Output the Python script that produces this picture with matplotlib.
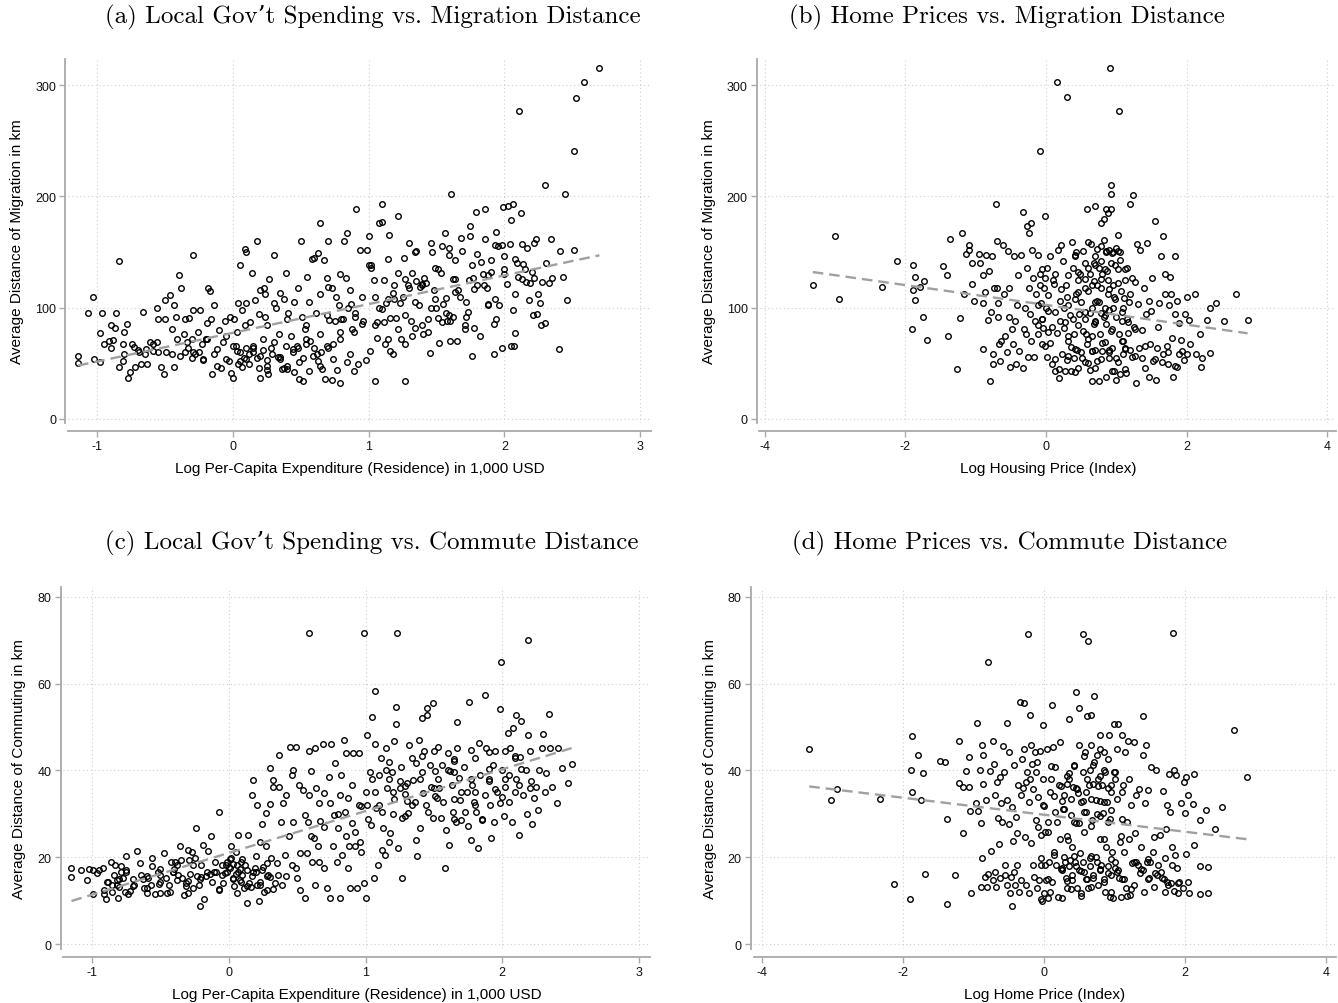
import numpy as np
import matplotlib
matplotlib.use("Agg")
import matplotlib.pyplot as plt

plt.rcParams["font.family"] = ["Liberation Sans", "DejaVu Sans"]
plt.rcParams["axes.unicode_minus"] = False

# (a) log per-capita expenditure vs. average migration distance (km)
A_PTS = [
    (-1.14, 57), (-1.14, 50), (-1.03, 110), (-1.07, 95), (-1.02, 54), (-0.98, 77), (-0.98, 51),
    (-0.96, 95), (-0.95, 67), (-0.91, 70), (-0.90, 84), (-0.87, 82), (-0.90, 64), (-0.88, 71),
    (-0.86, 95), (-0.84, 142), (-0.84, 47), (-0.81, 67), (-0.80, 78), (-0.78, 85), (-0.77, 37),
    (-0.76, 42), (-0.80, 58), (-0.81, 52), (-0.74, 67), (-0.73, 65), (-0.72, 47), (-0.68, 49),
    (-0.66, 96), (-0.63, 49), (-0.64, 63), (-0.61, 69), (-0.59, 67), (-0.56, 100), (-0.55, 90),
    (-0.56, 69), (-0.53, 47), (-0.51, 40), (-0.50, 90), (-0.50, 107), (-0.46, 111), (-0.45, 81),
    (-0.43, 102), (-0.42, 92), (-0.43, 47), (-0.41, 72), (-0.40, 129), (-0.38, 118), (-0.36, 76),
    (-0.35, 90), (-0.33, 64), (-0.32, 91), (-0.30, 72), (-0.29, 147), (-0.29, 98), (-0.28, 58),
    (-0.26, 78), (-0.24, 98), (-0.23, 67), (-0.22, 53), (-0.20, 72), (-0.19, 86), (-0.18, 118),
    (-0.17, 115), (-0.16, 90), (-0.14, 102), (-0.14, 58), (-0.15, 40), (-0.12, 63), (-0.09, 46),
    (-0.07, 69), (-0.06, 88), (-0.03, 52), (-0.02, 92), (-0.01, 41), (0.01, 90), (0.00, 37),
    (0.02, 66), (0.03, 61), (0.04, 104), (0.05, 138), (0.04, 49), (0.07, 98), (0.07, 47),
    (0.09, 153), (0.10, 150), (0.10, 104), (0.09, 84), (0.10, 64), (0.12, 58), (0.14, 131),
    (0.15, 64), (0.16, 107), (0.18, 160), (0.19, 94), (0.19, 46), (0.20, 37), (0.20, 116),
    (0.23, 118), (0.24, 112), (0.22, 72), (0.24, 92), (0.25, 44), (0.26, 40), (0.27, 126),
    (0.29, 58), (0.30, 104), (0.30, 147), (0.32, 100), (0.34, 76), (0.35, 56), (0.35, 113),
    (0.38, 108), (0.39, 131), (0.38, 46), (0.39, 66), (0.41, 95), (0.43, 75), (0.45, 105),
    (0.45, 42), (0.48, 118), (0.48, 64), (0.49, 36), (0.50, 160), (0.51, 92), (0.52, 34),
    (0.53, 81), (0.54, 67), (0.55, 128), (0.56, 105), (0.56, 43), (0.58, 144), (0.60, 64),
    (0.60, 145), (0.61, 95), (0.62, 58), (0.63, 149), (0.64, 176), (0.64, 112), (0.64, 76),
    (0.65, 60), (0.67, 143), (0.68, 36), (0.69, 127), (0.70, 119), (0.70, 160), (0.71, 89),
    (0.73, 35), (0.73, 118), (0.74, 67), (0.76, 110), (0.77, 44), (0.78, 102), (0.79, 78),
    (0.79, 32), (0.79, 130), (0.82, 160), (0.83, 127), (0.84, 167), (0.86, 58), (0.86, 116),
    (0.87, 103), (0.88, 81), (0.89, 43), (0.90, 92), (0.91, 189), (0.92, 49), (0.94, 152),
    (0.95, 110), (0.96, 88), (0.98, 53), (0.99, 152), (1.00, 138), (1.00, 164), (1.01, 61),
    (1.02, 136), (1.04, 125), (1.05, 34), (1.06, 87), (1.06, 73), (1.08, 176), (1.10, 193),
    (1.10, 177), (1.11, 125), (1.11, 87), (1.12, 67), (1.13, 104), (1.15, 165), (1.16, 91),
    (1.16, 61), (1.18, 58), (1.19, 120), (1.20, 91), (1.22, 182), (1.22, 131), (1.23, 104),
    (1.24, 72), (1.26, 145), (1.27, 67), (1.27, 34), (1.29, 120), (1.30, 158), (1.31, 88),
    (1.32, 131), (1.34, 82), (1.35, 151), (1.37, 102), (1.39, 121), (1.40, 76), (1.41, 127),
    (1.44, 78), (1.45, 59), (1.46, 158), (1.47, 150), (1.48, 116), (1.49, 136), (1.51, 91),
    (1.52, 68), (1.53, 131), (1.54, 155), (1.56, 167), (1.57, 109), (1.58, 88), (1.59, 154),
    (1.60, 70), (1.61, 202), (1.62, 126), (1.64, 143), (1.65, 70), (1.66, 116), (1.68, 163),
    (1.69, 151), (1.71, 81), (1.72, 105), (1.75, 173), (1.75, 164), (1.76, 57), (1.77, 127),
    (1.78, 82), (1.79, 186), (1.80, 148), (1.82, 75), (1.83, 141), (1.85, 120), (1.86, 189),
    (1.86, 162), (1.88, 103), (1.90, 143), (1.92, 85), (1.92, 58), (1.94, 168), (1.94, 90),
    (1.96, 102), (1.98, 156), (1.98, 64), (1.99, 190), (2.00, 146), (2.02, 121), (2.03, 191),
    (2.04, 157), (2.05, 179), (2.05, 66), (2.06, 98), (2.06, 193), (2.07, 66), (2.08, 112),
    (2.08, 77), (2.09, 140), (2.11, 277), (2.12, 185), (2.13, 157), (2.14, 139), (2.16, 123),
    (2.17, 154), (2.18, 107), (2.19, 122), (2.21, 93), (2.22, 127), (2.22, 158), (2.23, 162),
    (2.24, 94), (2.25, 112), (2.26, 104), (2.27, 84), (2.28, 123), (2.30, 86), (2.30, 210),
    (2.31, 140), (2.33, 122), (2.34, 162), (2.35, 127), (2.40, 63), (2.41, 151), (2.43, 128),
    (2.45, 202), (2.46, 107), (2.51, 241), (2.51, 152), (2.53, 288), (2.59, 303), (2.70, 315),
    (0.05, 52), (0.08, 55), (0.12, 49), (0.15, 60), (0.18, 55), (0.22, 62), (0.25, 53),
    (0.28, 64), (0.33, 56), (0.36, 45), (0.40, 48), (0.44, 60), (0.47, 66), (0.52, 55),
    (0.57, 70), (0.63, 52), (0.66, 45), (0.70, 64), (0.75, 88), (0.80, 90), (0.85, 100),
    (0.90, 95), (0.95, 85), (1.05, 110), (1.08, 100), (1.14, 108), (1.18, 113), (1.25, 110),
    (1.30, 118), (1.35, 124), (1.38, 119), (1.42, 122), (1.46, 100), (1.50, 100), (1.55, 103),
    (1.57, 95), (1.60, 88), (1.62, 92), (1.67, 110), (1.72, 92), (1.74, 125), (1.80, 120),
    (1.84, 130), (1.87, 118), (1.90, 132), (1.95, 155), (2.00, 130), (2.10, 128), (2.15, 135),
    (2.20, 132), (-0.35, 60), (-0.30, 55), (-0.25, 60), (-0.20, 72), (-0.10, 80), (-0.05, 75),
    (-0.45, 58), (-0.55, 60), (-0.65, 58), (-0.70, 62),
    (0.00, 66), (0.05, 60), (0.10, 54), (0.15, 66), (0.20, 57), (0.25, 48), (0.30, 69),
    (0.35, 54), (0.40, 45), (0.44, 63), (0.49, 51), (0.54, 72), (0.59, 57), (0.64, 48),
    (0.69, 66), (0.74, 54), (0.79, 72), (0.84, 51), (0.89, 78), (0.03, 78), (0.13, 87),
    (0.25, 84), (0.40, 90), (0.54, 84), (0.69, 93), (0.81, 90), (-0.05, 54), (-0.12, 48),
    (-0.22, 54), (-0.29, 60), (-0.39, 57), (-0.49, 60), (-0.59, 61), (-0.69, 60), (-0.34, 69),
    (-0.19, 72), (1.27, 126), (1.39, 120), (1.51, 135), (1.64, 126), (1.76, 138), (1.88, 129),
    (2.00, 135), (2.13, 126), (1.19, 108), (1.34, 105), (1.49, 108), (1.64, 114), (1.78, 117),
    (1.93, 108), (1.10, 99), (1.27, 93), (1.44, 90), (1.59, 93), (1.73, 96), (1.88, 102),
    (1.05, 84), (1.22, 81), (1.39, 84), (1.54, 87), (1.71, 84), (1.14, 72), (1.32, 75),
    (1.02, 138), (1.14, 144), (1.34, 150), (1.59, 147), (1.93, 156), (2.08, 144),
]

# (b) log housing price index vs. average migration distance (km)
B_PTS = [
    (-3.32, 120), (-3.01, 164), (-2.94, 108), (-2.33, 119), (-2.12, 142), (-1.90, 138), (-1.87, 128),
    (-1.89, 116), (-1.87, 107), (-1.91, 81), (-1.80, 119), (-1.73, 124), (-1.75, 92), (-1.69, 71),
    (-1.46, 137), (-1.41, 129), (-1.40, 75), (-1.37, 162), (-1.26, 45), (-1.22, 91), (-1.20, 167),
    (-1.16, 112), (-1.14, 148), (-1.10, 152), (-1.09, 156), (-1.05, 140), (-1.05, 121), (-1.03, 106),
    (-0.96, 148), (-0.94, 140), (-0.90, 129), (-0.89, 63), (-0.89, 104), (-0.87, 114), (-0.85, 147),
    (-0.83, 89), (-0.81, 133), (-0.79, 34), (-0.78, 96), (-0.77, 146), (-0.76, 58), (-0.76, 49),
    (-0.74, 118), (-0.71, 193), (-0.70, 160), (-0.70, 118), (-0.68, 104), (-0.68, 92), (-0.67, 67),
    (-0.65, 52), (-0.64, 70), (-0.61, 156), (-0.60, 112), (-0.58, 75), (-0.56, 60), (-0.54, 151),
    (-0.52, 118), (-0.52, 92), (-0.51, 47), (-0.49, 81), (-0.47, 67), (-0.46, 146), (-0.44, 88),
    (-0.43, 49), (-0.41, 102), (-0.40, 129), (-0.38, 61), (-0.36, 147), (-0.33, 186), (-0.33, 46),
    (-0.32, 81), (-0.30, 100), (-0.29, 76), (-0.27, 173), (-0.27, 136), (-0.26, 56), (-0.24, 167),
    (-0.24, 118), (-0.23, 94), (-0.21, 176), (-0.21, 70), (-0.20, 152), (-0.18, 127), (-0.17, 56),
    (-0.15, 88), (-0.14, 112), (-0.12, 147), (-0.11, 76), (-0.09, 130), (-0.08, 241), (-0.07, 104),
    (-0.06, 67), (-0.04, 82), (-0.03, 118), (-0.01, 182), (0.01, 136), (0.02, 56), (0.03, 97),
    (0.05, 146), (0.06, 68), (0.08, 49), (0.09, 83), (0.11, 121), (0.13, 43), (0.15, 77),
    (0.16, 303), (0.17, 152), (0.18, 37), (0.20, 106), (0.21, 156), (0.23, 58), (0.24, 142),
    (0.26, 82), (0.27, 43), (0.29, 120), (0.30, 289), (0.30, 53), (0.32, 70), (0.34, 93),
    (0.35, 43), (0.37, 159), (0.38, 136), (0.40, 76), (0.41, 146), (0.43, 112), (0.44, 62),
    (0.46, 46), (0.47, 94), (0.49, 130), (0.51, 55), (0.52, 79), (0.53, 151), (0.55, 118),
    (0.57, 76), (0.58, 67), (0.59, 189), (0.60, 136), (0.62, 44), (0.63, 95), (0.64, 157),
    (0.65, 61), (0.66, 34), (0.68, 124), (0.69, 85), (0.70, 191), (0.70, 146), (0.72, 52),
    (0.73, 106), (0.75, 34), (0.76, 136), (0.77, 76), (0.79, 176), (0.79, 118), (0.80, 61),
    (0.82, 161), (0.82, 180), (0.83, 92), (0.85, 189), (0.85, 38), (0.87, 133), (0.88, 185),
    (0.88, 112), (0.90, 55), (0.91, 315), (0.92, 210), (0.92, 202), (0.93, 189), (0.93, 79),
    (0.94, 149), (0.94, 64), (0.96, 100), (0.97, 43), (0.99, 154), (1.00, 35), (1.02, 122),
    (1.03, 165), (1.04, 277), (1.04, 76), (1.05, 40), (1.06, 143), (1.08, 88), (1.10, 58),
    (1.11, 109), (1.13, 64), (1.14, 41), (1.16, 136), (1.17, 77), (1.19, 193), (1.20, 112),
    (1.22, 56), (1.24, 201), (1.25, 83), (1.26, 123), (1.28, 32), (1.30, 157), (1.31, 103),
    (1.33, 64), (1.34, 152), (1.36, 80), (1.37, 55), (1.39, 118), (1.41, 46), (1.43, 94),
    (1.44, 158), (1.46, 38), (1.47, 106), (1.48, 67), (1.50, 97), (1.51, 127), (1.53, 52),
    (1.55, 178), (1.56, 35), (1.58, 64), (1.60, 83), (1.61, 104), (1.64, 146), (1.66, 58),
    (1.67, 164), (1.69, 112), (1.70, 130), (1.72, 66), (1.73, 49), (1.75, 102), (1.77, 128),
    (1.78, 112), (1.80, 73), (1.81, 38), (1.83, 94), (1.84, 146), (1.86, 47), (1.87, 106),
    (1.89, 58), (1.90, 86), (1.92, 71), (1.94, 61), (1.96, 53), (1.98, 94), (2.00, 58),
    (2.01, 110), (2.04, 89), (2.05, 67), (2.12, 112), (2.13, 58), (2.19, 76), (2.21, 47),
    (2.22, 55), (2.29, 89), (2.33, 100), (2.34, 59), (2.42, 104), (2.53, 88), (2.70, 112),
    (2.87, 89),
    (0.45, 125), (0.50, 105), (0.55, 90), (0.60, 115), (0.62, 130), (0.65, 100), (0.70, 88),
    (0.72, 120), (0.75, 105), (0.78, 95), (0.80, 130), (0.84, 100), (0.86, 150), (0.88, 125),
    (0.90, 98), (0.92, 140), (0.95, 120), (0.97, 110), (1.00, 92), (1.03, 135), (1.07, 115),
    (1.10, 100), (1.12, 125), (1.15, 90), (1.18, 105), (0.35, 65), (0.40, 55), (0.50, 60),
    (0.60, 50), (0.70, 62), (0.80, 68), (0.90, 62), (1.00, 55), (1.10, 70), (1.20, 62),
    (0.20, 88), (0.25, 100), (0.10, 125), (0.00, 100), (-0.05, 90), (0.30, 110), (0.38, 90),
    (0.42, 150), (0.55, 140), (0.68, 140), (0.78, 155), (0.95, 150), (1.05, 150), (0.85, 85),
    (0.65, 75),
    (0.41, 147), (0.60, 159), (0.72, 153), (0.79, 142), (0.86, 151), (0.90, 152), (1.03, 151),
    (0.70, 138), (0.84, 135), (0.98, 138), (0.46, 132), (0.32, 129), (0.13, 130), (-0.01, 127),
    (0.56, 126), (0.79, 126), (1.12, 135), (1.22, 127), (0.65, 120), (0.89, 117), (0.46, 114),
    (0.22, 117), (0.03, 111), (0.41, 108), (0.70, 105), (0.98, 108), (0.32, 102), (0.13, 96),
    (0.56, 96), (0.84, 93), (1.08, 96), (-0.06, 90), (0.27, 87), (0.46, 84), (0.70, 87),
    (0.94, 81), (1.17, 87), (1.27, 81), (0.03, 78), (0.32, 75), (0.60, 72), (0.84, 69),
    (1.08, 70), (-0.01, 66), (0.41, 63), (0.65, 61), (0.89, 60), (1.12, 63), (1.41, 66),
    (0.13, 54), (0.32, 57), (0.56, 51), (0.79, 54), (1.03, 51), (1.27, 57), (1.55, 54),
    (1.74, 60), (0.18, 45), (0.70, 46), (0.94, 43), (0.41, 42), (1.12, 45), (1.65, 51),
    (1.84, 48), (-0.11, 84), (-0.11, 102), (-0.09, 120), (-0.06, 135),
]

# (c) log per-capita expenditure vs. average commuting distance (km)
C_PTS = [
    (-1.15, 17.5), (-1.15, 15.4), (-1.08, 17.1), (-1.04, 14.8), (-1.02, 17.3), (-0.99, 11.5),
    (-0.99, 17.1), (-0.96, 16.3), (-0.95, 17.1), (-0.92, 17.5), (-0.91, 12.5), (-0.90, 10.4),
    (-0.91, 11.5), (-0.88, 14.4), (-0.86, 19.0), (-0.85, 13.7), (-0.84, 16.0), (-0.83, 18.3),
    (-0.82, 14.8), (-0.82, 13.7), (-0.81, 10.7), (-0.79, 16.7), (-0.79, 17.9), (-0.77, 15.2),
    (-0.76, 12.1), (-0.75, 20.4), (-0.75, 17.1), (-0.74, 11.5), (-0.72, 12.3), (-0.69, 13.7),
    (-0.67, 21.5), (-0.65, 18.6), (-0.64, 15.8), (-0.62, 12.9), (-0.60, 11.7), (-0.59, 15.2),
    (-0.57, 13.7), (-0.56, 19.8), (-0.56, 17.9), (-0.54, 11.5), (-0.52, 16.7), (-0.51, 13.8),
    (-0.50, 11.7), (-0.47, 21.0), (-0.46, 15.2), (-0.45, 11.7), (-0.44, 13.7), (-0.42, 19.0),
    (-0.41, 16.7), (-0.39, 19.0), (-0.38, 14.8), (-0.37, 16.0), (-0.36, 22.5), (-0.35, 19.4),
    (-0.34, 15.2), (-0.33, 11.4), (-0.31, 14.0), (-0.30, 21.7), (-0.30, 11.7), (-0.29, 19.4),
    (-0.28, 16.1), (-0.27, 21.3), (-0.26, 12.9), (-0.25, 19.8), (-0.24, 26.7), (-0.23, 15.6),
    (-0.22, 13.7), (-0.21, 8.7), (-0.20, 18.3), (-0.19, 22.9), (-0.18, 10.4), (-0.17, 15.6),
    (-0.16, 16.7), (-0.15, 21.5), (-0.14, 16.1), (-0.13, 24.8), (-0.12, 14.4), (-0.09, 16.7),
    (-0.07, 12.5), (-0.07, 30.5), (-0.05, 18.3), (-0.04, 14.0), (-0.03, 16.3), (-0.01, 16.7),
    (-0.01, 19.0), (0.01, 17.5), (0.02, 19.8), (0.02, 22.5), (0.03, 15.2), (0.04, 13.3),
    (0.05, 21.3), (0.06, 18.3), (0.06, 11.7), (0.07, 25.2), (0.07, 16.7), (0.09, 19.0),
    (0.09, 14.4), (0.10, 16.0), (0.11, 12.9), (0.12, 18.3), (0.13, 9.4), (0.14, 25.2),
    (0.15, 14.0), (0.17, 15.6), (0.17, 34.4), (0.18, 37.8), (0.19, 17.5), (0.20, 20.2),
    (0.21, 32.1), (0.21, 13.7), (0.22, 9.8), (0.23, 23.6), (0.24, 17.1), (0.24, 27.6),
    (0.26, 12.1), (0.27, 22.5), (0.27, 30.2), (0.28, 18.6), (0.29, 16.0), (0.30, 32.2),
    (0.30, 40.5), (0.31, 19.8), (0.32, 37.8), (0.32, 36.1), (0.34, 14.0), (0.35, 18.6),
    (0.36, 16.0), (0.37, 43.6), (0.37, 36.1), (0.38, 28.2), (0.39, 13.7), (0.40, 32.5),
    (0.41, 20.6), (0.42, 34.4), (0.42, 15.6), (0.44, 24.8), (0.45, 45.4), (0.46, 18.3),
    (0.46, 39.0), (0.47, 40.1), (0.47, 28.2), (0.49, 45.5), (0.49, 17.5), (0.50, 15.2),
    (0.51, 36.7), (0.52, 12.5), (0.52, 21.0), (0.54, 35.5), (0.56, 10.6), (0.56, 29.8),
    (0.57, 21.0), (0.58, 28.2), (0.59, 34.4), (0.59, 44.4), (0.60, 39.8), (0.61, 19.0),
    (0.62, 24.4), (0.63, 45.1), (0.63, 13.7), (0.64, 35.9), (0.65, 22.5), (0.66, 32.5),
    (0.66, 19.0), (0.67, 28.4), (0.69, 46.0), (0.70, 17.5), (0.70, 34.8), (0.72, 12.9),
    (0.73, 38.6), (0.74, 32.5), (0.74, 10.6), (0.75, 46.0), (0.76, 22.5), (0.77, 29.8),
    (0.78, 41.7), (0.79, 19.0), (0.80, 26.7), (0.81, 10.6), (0.81, 34.4), (0.82, 39.0),
    (0.83, 20.6), (0.84, 47.0), (0.85, 30.5), (0.86, 24.8), (0.86, 44.0), (0.87, 33.6),
    (0.87, 17.5), (0.88, 22.5), (0.89, 12.9), (0.90, 36.7), (0.91, 44.0), (0.92, 25.9),
    (0.92, 22.5), (0.94, 12.9), (0.95, 32.1), (0.95, 44.0), (0.96, 23.6), (0.97, 21.3),
    (0.99, 71.6), (0.99, 14.0), (1.00, 10.6), (1.01, 48.2), (1.01, 32.1), (1.03, 39.7),
    (1.04, 27.5), (1.05, 52.4), (1.06, 15.2), (1.07, 46.0), (1.07, 58.3), (1.08, 31.3),
    (1.09, 18.3), (1.10, 39.0), (1.11, 42.8), (1.12, 21.7), (1.13, 26.7), (1.14, 20.6),
    (1.15, 45.1), (1.16, 35.9), (1.17, 23.6), (1.18, 25.6), (1.19, 39.7), (1.20, 35.1),
    (1.21, 46.7), (1.22, 50.7), (1.22, 54.6), (1.23, 71.6), (1.24, 22.1), (1.25, 37.5),
    (1.26, 40.9), (1.27, 15.2), (1.27, 29.0), (1.29, 34.5), (1.30, 37.1), (1.31, 30.2),
    (1.32, 45.9), (1.34, 42.8), (1.34, 32.1), (1.35, 37.8), (1.37, 41.7), (1.37, 24.0),
    (1.38, 20.2), (1.39, 47.0), (1.40, 26.7), (1.41, 52.0), (1.42, 34.8), (1.43, 44.4),
    (1.44, 32.1), (1.45, 54.5), (1.45, 52.8), (1.47, 41.3), (1.48, 36.1), (1.49, 55.5),
    (1.49, 29.0), (1.50, 44.4), (1.51, 39.8), (1.52, 33.6), (1.53, 45.5), (1.54, 35.9),
    (1.55, 29.0), (1.56, 41.3), (1.57, 32.8), (1.58, 17.5), (1.59, 26.3), (1.60, 44.0),
    (1.61, 22.9), (1.62, 39.8), (1.63, 36.7), (1.64, 30.5), (1.65, 42.1), (1.66, 28.2),
    (1.67, 51.1), (1.67, 45.1), (1.68, 38.2), (1.69, 33.2), (1.70, 28.6), (1.72, 40.9),
    (1.73, 30.5), (1.74, 35.1), (1.75, 27.3), (1.76, 55.7), (1.77, 44.7), (1.77, 24.0),
    (1.78, 36.7), (1.79, 32.8), (1.80, 42.8), (1.81, 30.5), (1.82, 22.1), (1.83, 46.3),
    (1.84, 39.0), (1.85, 28.6), (1.87, 34.4), (1.87, 57.3), (1.88, 45.1), (1.90, 37.5),
    (1.91, 32.1), (1.92, 24.4), (1.93, 41.3), (1.94, 28.2), (1.95, 44.4), (1.96, 35.1),
    (1.98, 54.2), (1.98, 32.5), (1.99, 65.1), (2.00, 40.1), (2.01, 29.4), (2.02, 36.1),
    (2.02, 44.4), (2.04, 48.6), (2.05, 32.8), (2.05, 39.0), (2.06, 45.1), (2.07, 28.1),
    (2.08, 49.7), (2.09, 42.8), (2.10, 52.8), (2.12, 36.7), (2.12, 25.2), (2.13, 43.2),
    (2.14, 51.3), (2.15, 34.4), (2.17, 40.1), (2.18, 29.9), (2.19, 70.1), (2.19, 48.2),
    (2.20, 44.4), (2.21, 37.5), (2.22, 27.6), (2.23, 33.6), (2.25, 36.1), (2.26, 30.9),
    (2.27, 40.1), (2.29, 45.1), (2.30, 48.4), (2.31, 35.0), (2.32, 39.4), (2.34, 53.0),
    (2.35, 45.1), (2.36, 36.3), (2.40, 32.5), (2.41, 45.1), (2.44, 40.5), (2.48, 37.1),
    (2.51, 41.4), (0.59, 71.6),
    (0.00, 17.8), (0.03, 18.5), (0.05, 16.2), (0.08, 14.8), (0.10, 19.5), (0.13, 17.0),
    (0.16, 13.2), (0.20, 16.5), (0.23, 13.7), (0.25, 17.8), (0.28, 12.5), (0.30, 15.5),
    (-0.05, 16.0), (-0.10, 18.8), (-0.20, 15.5), (-0.30, 14.5), (-0.40, 17.2), (-0.50, 15.8),
    (-0.60, 13.0), (-0.70, 15.0), (-0.80, 13.2), (1.00, 35.0), (1.05, 38.0), (1.10, 32.0),
    (1.15, 40.0), (1.20, 30.0), (1.25, 36.0), (1.30, 33.0), (1.40, 38.0), (1.50, 36.0),
    (1.60, 40.0), (1.70, 35.0), (1.80, 32.0), (1.90, 38.0), (2.00, 34.0), (2.10, 38.0),
    (2.20, 36.0), (0.80, 30.0), (0.90, 28.0), (0.70, 27.0), (0.60, 25.0),
    (-0.89, 14.2), (-0.80, 15.0), (-0.70, 13.4), (-0.60, 15.7), (-0.50, 14.2), (-0.41, 16.5),
    (-0.31, 13.4), (-0.21, 15.0), (-0.11, 16.5), (-0.02, 18.1), (0.03, 15.0), (0.08, 17.3),
    (0.13, 13.4), (0.18, 16.5), (0.23, 14.2), (0.28, 15.7), (0.32, 12.7), (-0.38, 18.1),
    (-0.26, 18.1), (-0.50, 17.3), (-0.63, 15.0), (-0.75, 16.5), (-0.85, 11.9), (-0.43, 11.9),
    (-0.07, 12.7), (0.01, 19.6), (1.17, 38.0), (1.29, 36.5), (1.41, 39.6), (1.53, 38.0),
    (1.65, 39.6), (1.77, 38.0), (1.90, 40.3), (2.02, 38.0), (2.14, 40.3), (1.21, 33.4),
    (1.36, 32.7), (1.51, 34.2), (1.65, 33.4), (1.80, 35.0), (1.95, 35.7), (2.09, 35.0),
    (1.12, 30.4), (1.29, 29.6), (1.46, 30.4), (1.65, 28.8), (1.85, 28.8), (1.17, 41.9),
    (1.41, 43.4), (1.65, 42.7), (1.90, 44.2), (2.09, 43.4), (1.07, 35.0), (0.97, 31.9),
    (1.02, 28.8),
]

# (d) log home price index vs. average commuting distance (km)
D_PTS = [
    (-3.33, 44.9), (-2.94, 35.8), (-3.02, 33.1), (-2.33, 33.4), (-2.13, 13.8), (-1.90, 10.3),
    (-1.88, 40.0), (-1.87, 35.1), (-1.87, 47.9), (-1.79, 43.6), (-1.75, 33.2), (-1.72, 39.4),
    (-1.69, 16.2), (-1.47, 42.3), (-1.41, 42.0), (-1.38, 9.3), (-1.37, 28.9), (-1.26, 15.8),
    (-1.21, 46.7), (-1.21, 37.1), (-1.15, 36.2), (-1.15, 25.7), (-1.11, 39.8), (-1.06, 43.0),
    (-1.06, 36.2), (-1.05, 30.6), (-1.03, 11.7), (-0.97, 32.6), (-0.95, 50.9), (-0.93, 30.6),
    (-0.91, 40.0), (-0.89, 13.2), (-0.89, 27.8), (-0.88, 45.8), (-0.88, 19.9), (-0.87, 37.0),
    (-0.86, 43.5), (-0.84, 15.5), (-0.82, 33.2), (-0.81, 13.2), (-0.79, 65.0), (-0.79, 16.1),
    (-0.77, 39.9), (-0.75, 21.4), (-0.73, 14.8), (-0.72, 46.7), (-0.71, 41.6), (-0.70, 34.3),
    (-0.69, 16.7), (-0.68, 13.2), (-0.67, 37.4), (-0.66, 29.1), (-0.64, 23.0), (-0.63, 15.2),
    (-0.62, 38.5), (-0.61, 32.4), (-0.59, 28.2), (-0.58, 45.6), (-0.57, 39.7), (-0.56, 15.9),
    (-0.55, 18.2), (-0.53, 33.2), (-0.52, 51.0), (-0.52, 13.6), (-0.50, 27.6), (-0.49, 44.3),
    (-0.48, 11.7), (-0.47, 15.5), (-0.46, 31.6), (-0.46, 8.7), (-0.44, 23.7), (-0.43, 41.3),
    (-0.42, 16.7), (-0.41, 13.6), (-0.40, 29.2), (-0.39, 25.5), (-0.38, 18.2), (-0.37, 36.6),
    (-0.35, 12.1), (-0.34, 55.7), (-0.33, 34.3), (-0.33, 14.8), (-0.31, 42.6), (-0.29, 45.0),
    (-0.28, 55.6), (-0.27, 24.7), (-0.26, 13.6), (-0.25, 37.4), (-0.24, 39.7), (-0.23, 71.4),
    (-0.22, 32.8), (-0.21, 11.7), (-0.20, 52.8), (-0.19, 23.2), (-0.19, 45.8), (-0.17, 41.6),
    (-0.16, 18.2), (-0.15, 35.8), (-0.14, 15.5), (-0.13, 44.3), (-0.12, 28.6), (-0.11, 39.7),
    (-0.10, 12.9), (-0.09, 33.9), (-0.08, 27.0), (-0.07, 14.8), (-0.06, 44.6), (-0.05, 25.1),
    (-0.04, 19.8), (-0.03, 9.8), (-0.02, 38.1), (-0.01, 50.4), (-0.01, 32.0), (0.00, 11.7),
    (0.01, 18.2), (0.02, 25.9), (0.03, 14.8), (0.04, 45.0), (0.05, 10.6), (0.06, 28.2),
    (0.07, 19.0), (0.08, 35.1), (0.10, 41.0), (0.11, 55.0), (0.11, 14.4), (0.13, 45.4),
    (0.14, 20.5), (0.15, 30.5), (0.16, 40.8), (0.17, 18.1), (0.19, 28.2), (0.20, 10.9),
    (0.21, 36.6), (0.22, 46.6), (0.23, 24.3), (0.25, 17.5), (0.26, 10.6), (0.27, 31.2),
    (0.28, 20.1), (0.29, 34.3), (0.31, 15.2), (0.32, 37.0), (0.33, 12.9), (0.34, 24.0),
    (0.35, 51.9), (0.36, 39.5), (0.37, 19.4), (0.38, 29.7), (0.39, 14.8), (0.40, 22.4),
    (0.41, 36.2), (0.43, 41.2), (0.44, 19.0), (0.45, 58.2), (0.46, 27.8), (0.47, 12.9),
    (0.48, 34.7), (0.49, 54.4), (0.50, 45.8), (0.51, 20.9), (0.52, 32.8), (0.53, 11.7),
    (0.55, 71.4), (0.55, 39.7), (0.56, 25.9), (0.57, 16.7), (0.58, 44.3), (0.59, 30.5),
    (0.61, 52.5), (0.62, 12.9), (0.63, 69.9), (0.64, 36.6), (0.65, 19.8), (0.66, 45.8),
    (0.67, 52.7), (0.68, 28.6), (0.69, 15.2), (0.70, 41.2), (0.71, 57.1), (0.73, 20.1),
    (0.74, 33.2), (0.75, 43.5), (0.76, 13.6), (0.77, 38.1), (0.79, 24.3), (0.80, 48.1),
    (0.81, 18.2), (0.82, 36.6), (0.83, 30.1), (0.85, 44.3), (0.86, 12.1), (0.87, 39.7),
    (0.88, 22.4), (0.89, 32.8), (0.91, 16.3), (0.92, 48.1), (0.93, 28.9), (0.94, 10.9),
    (0.95, 36.6), (0.97, 21.3), (0.98, 10.6), (0.99, 50.8), (1.00, 39.7), (1.01, 17.5),
    (1.03, 45.0), (1.04, 33.5), (1.05, 50.8), (1.06, 15.2), (1.07, 23.6), (1.09, 10.9),
    (1.10, 48.1), (1.11, 28.9), (1.12, 36.6), (1.13, 21.3), (1.15, 44.3), (1.16, 12.9),
    (1.17, 28.2), (1.19, 46.9), (1.21, 24.3), (1.22, 11.3), (1.24, 32.0), (1.25, 18.6),
    (1.27, 13.6), (1.28, 46.6), (1.29, 25.5), (1.31, 34.3), (1.33, 18.2), (1.34, 35.8),
    (1.36, 16.3), (1.37, 22.4), (1.40, 52.5), (1.41, 43.5), (1.42, 12.1), (1.43, 32.4),
    (1.45, 45.8), (1.46, 19.0), (1.47, 35.5), (1.49, 15.2), (1.52, 40.8), (1.54, 21.3),
    (1.56, 24.7), (1.58, 16.3), (1.59, 40.0), (1.61, 18.2), (1.64, 25.1), (1.67, 15.2),
    (1.69, 35.2), (1.71, 19.8), (1.71, 12.1), (1.73, 26.6), (1.74, 32.0), (1.76, 13.6),
    (1.77, 39.3), (1.79, 30.5), (1.81, 22.4), (1.82, 18.2), (1.83, 71.6), (1.84, 40.0),
    (1.85, 20.5), (1.87, 38.9), (1.88, 17.5), (1.90, 11.7), (1.91, 14.4), (1.94, 32.4),
    (1.97, 12.9), (1.99, 37.4), (2.00, 30.1), (2.01, 20.7), (2.02, 38.5), (2.04, 14.4),
    (2.04, 34.3), (2.05, 11.7), (2.11, 32.2), (2.12, 22.8), (2.13, 39.3), (2.21, 28.6),
    (2.21, 18.0), (2.21, 11.6), (2.29, 31.0), (2.33, 17.7), (2.33, 11.7), (2.42, 26.6),
    (2.53, 31.5), (2.70, 49.3), (2.88, 38.4),
    (0.45, 18), (0.50, 17), (0.55, 19), (0.60, 15), (0.65, 18), (0.70, 16), (0.75, 19),
    (0.80, 17), (0.85, 15), (0.90, 18), (0.95, 16), (1.00, 19), (1.05, 17), (1.10, 15),
    (0.35, 18), (0.30, 19), (0.25, 17), (0.40, 16), (1.30, 19), (1.40, 17), (1.50, 19),
    (1.60, 16), (1.70, 15), (1.80, 14), (1.90, 14), (0.60, 35), (0.70, 37), (0.80, 33),
    (0.90, 36), (1.00, 38), (0.85, 40), (0.75, 30), (0.95, 31), (0.65, 40), (0.55, 33),
    (0.45, 36), (0.35, 38), (0.25, 33), (0.10, 38), (-0.10, 42), (-0.20, 38), (-0.30, 36),
    (0.50, 28), (1.10, 35), (1.20, 38),
    (0.57, 43.4), (0.71, 41.9), (0.80, 45.0), (0.90, 42.7), (0.43, 41.1), (0.33, 38.8),
    (0.61, 38.0), (0.80, 38.8), (0.99, 39.6), (0.24, 36.5), (0.47, 35.7), (0.76, 36.5),
    (0.95, 35.0), (0.14, 34.2), (0.38, 33.4), (0.66, 33.4), (0.85, 32.7), (0.00, 31.9),
    (0.28, 31.1), (0.57, 30.4), (0.80, 29.6), (0.43, 28.1), (0.66, 27.3), (0.90, 28.1),
    (0.05, 25.8), (0.33, 25.0), (0.85, 24.2), (1.09, 25.0), (0.14, 21.1), (0.43, 20.4),
    (0.66, 20.4), (0.95, 19.6), (1.28, 18.8), (1.47, 19.6), (-0.05, 18.1), (0.24, 17.3),
    (0.52, 16.9), (0.80, 17.3), (1.04, 16.5), (1.37, 17.3), (1.66, 16.5), (0.05, 15.0),
    (0.33, 14.6), (0.61, 15.0), (0.85, 14.2), (1.13, 15.0), (1.47, 15.0), (1.75, 14.2),
    (0.09, 11.9), (0.38, 12.7), (0.66, 13.1), (0.95, 11.9), (1.23, 12.7), (1.56, 13.1),
    (1.84, 12.3), (-0.05, 10.4), (0.52, 11.1), (1.18, 11.1),
]

# linear fits: (intercept, slope)
A_FIT = (77.4, 25.8)
B_FIT = (102.5, -8.89)
C_FIT = (21.0, 9.64)
D_FIT = (29.8, -1.96)

TITLES = [
    "(a) Local Gov\u2019t Spending vs. Migration Distance",
    "(b) Home Prices vs. Migration Distance",
    "(c) Local Gov\u2019t Spending vs. Commute Distance",
    "(d) Home Prices vs. Commute Distance",
]
XLABELS = [
    "Log Per-Capita Expenditure (Residence) in 1,000 USD",
    "Log Housing Price (Index)",
    "Log Per-Capita Expenditure (Residence) in 1,000 USD",
    "Log Home Price (Index)",
]
YLABELS = [
    "Average Distance of Migration in km",
    "Average Distance of Migration in km",
    "Average Distance of Commuting in km",
    "Average Distance of Commuting in km",
]

W, H = 1338, 1004
AX_GRAY = "#a9a9a9"


def px_rect(left, right, top, bottom):
    return [left / W, 1 - bottom / H, (right - left) / W, (bottom - top) / H]


def draw(ax, pts, fit, xlim, ylim, xticks, yticks, xlabel, ylabel):
    x, y = zip(*pts)
    x = np.array(x)
    ax.plot(x, y, "o", ms=4.0, mfc="none", mec="black", mew=1.0, zorder=3)
    xs = np.array([x.min(), x.max()])
    ax.plot(xs, fit[0] + fit[1] * xs, color="#a0a0a0", lw=1.7,
            dashes=(4.5, 2.5), zorder=4)
    ax.set_xlim(*xlim)
    ax.set_ylim(*ylim)
    ax.set_xticks(xticks)
    ax.set_yticks(yticks)
    ax.grid(True, color="#cfcfcf", linestyle=(0, (1, 2.5)), lw=0.8)
    ax.set_axisbelow(True)
    for s in ["top", "right"]:
        ax.spines[s].set_visible(False)
    ax.spines["left"].set_position(("outward", 2))
    ax.spines["bottom"].set_position(("outward", 6))
    for s in ["left", "bottom"]:
        ax.spines[s].set_color(AX_GRAY)
        ax.spines[s].set_linewidth(1.3)
    ax.tick_params(direction="out", length=4, width=1, color=AX_GRAY,
                   labelsize=9, labelcolor="#111111", pad=2.5)
    ax.set_xlabel(xlabel, fontsize=11, labelpad=6)
    ax.set_ylabel(ylabel, fontsize=11, labelpad=8)


fig = plt.figure(figsize=(W / 100, H / 100), dpi=100)

ax_a = fig.add_axes(px_rect(68, 651, 60, 424))
ax_b = fig.add_axes(px_rect(759.5, 1336, 60, 424))
ax_c = fig.add_axes(px_rect(63.4, 650, 588, 950))
ax_d = fig.add_axes(px_rect(753.5, 1336, 588, 950))

mig_ylim = (-3.6, 323.4)
com_ylim = (-1.15, 82.3)
draw(ax_a, A_PTS, A_FIT, (-1.214, 3.08), mig_ylim, [-1, 0, 1, 2, 3], [0, 100, 200, 300],
     XLABELS[0], YLABELS[0])
draw(ax_b, B_PTS, B_FIT, (-4.078, 4.128), mig_ylim, [-4, -2, 0, 2, 4], [0, 100, 200, 300],
     XLABELS[1], YLABELS[1])
draw(ax_c, C_PTS, C_FIT, (-1.209, 3.08), com_ylim, [-1, 0, 1, 2, 3], [0, 20, 40, 60, 80],
     XLABELS[2], YLABELS[2])
draw(ax_d, D_PTS, D_FIT, (-4.12, 4.14), com_ylim, [-4, -2, 0, 2, 4], [0, 20, 40, 60, 80],
     XLABELS[3], YLABELS[3])

title_pos = [(373, 17), (1007, 17), (372, 543), (1010, 543)]
for (tx, ty), t in zip(title_pos, TITLES):
    fig.text(tx / W, 1 - ty / H, t, ha="center", va="center", fontsize=18,
             family=["cmr10", "DejaVu Serif"])

fig.savefig("out.png", dpi=100)
